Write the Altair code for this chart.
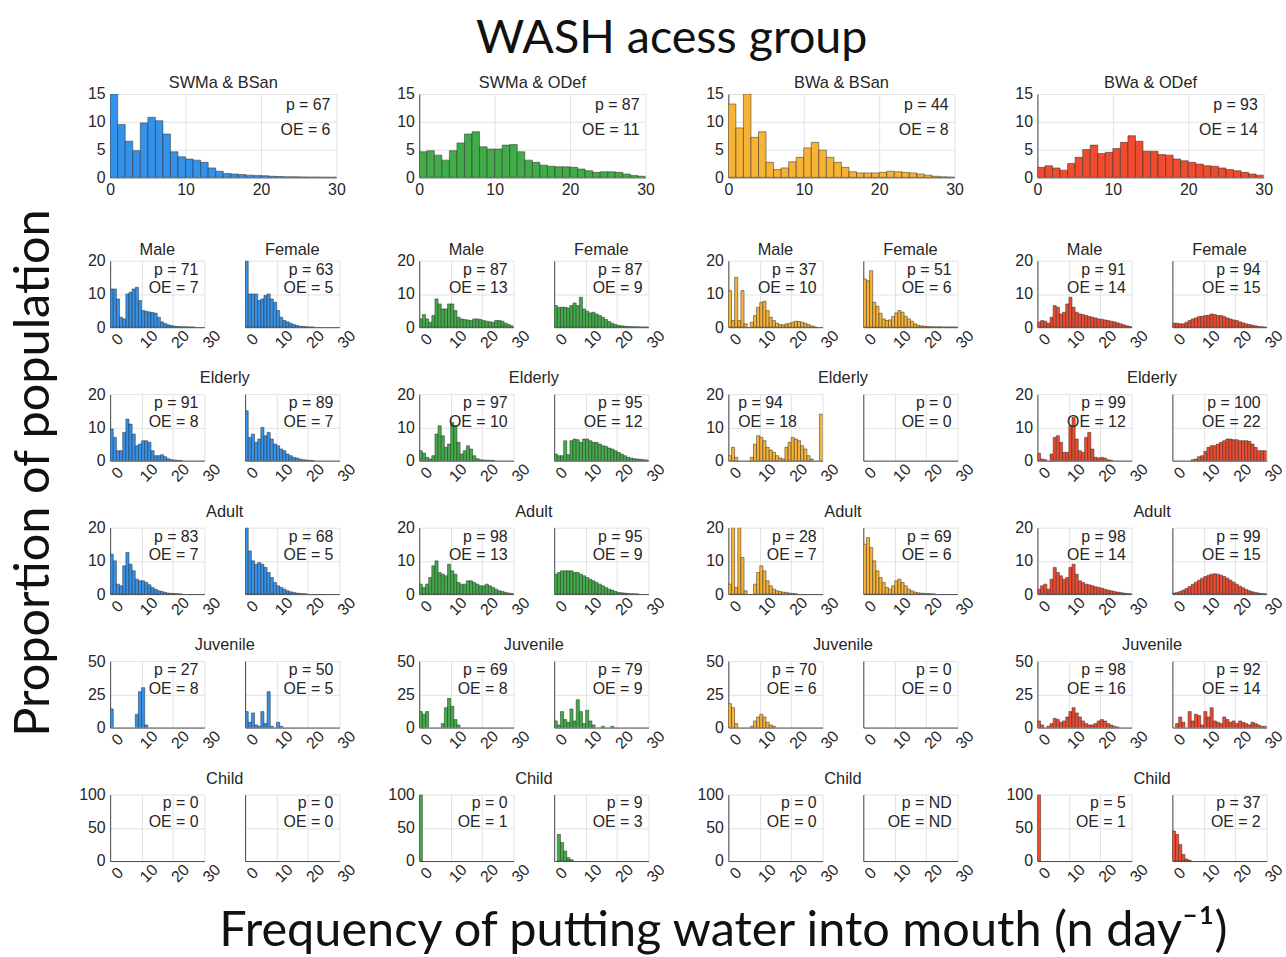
import altair as alt
import pandas as pd

# ---------------- data ----------------
BIN_EDGES = list(range(31))
X_TICKS = [0, 10, 20, 30]

GROUPS = ["SWMa & BSan", "SWMa & ODef", "BWa & BSan", "BWa & ODef"]
COLORS = ["#3592ea", "#41ad48", "#f8b334", "#ef4b2f"]

TITLE = "WASH acess group"
Y_LABEL = "Proportion of population"
X_LABEL = "Frequency of putting water into mouth (n day\u207b\u00b9)"

ROW_TITLES = ["", "Elderly", "Adult", "Juvenile", "Child"]
SEX_TITLES = ["Male", "Female"]
TOP_YMAX = 15
TOP_YTICKS = [0, 5, 10, 15]
ROW_YMAX = [20, 20, 20, 50, 100]
ROW_YTICKS = [[0, 10, 20], [0, 10, 20], [0, 10, 20], [0, 25, 50], [0, 50, 100]]

# top (all-population) histograms, % per 1-unit bin from 0 to 30
G1_TOP = [16, 9.5, 6.5, 4.8, 9.8, 10.8, 10.2, 7.8, 4.6, 3.7, 3.3, 3.1, 2.7, 1.7, 1.1,
          0.7, 0.6, 0.5, 0.4, 0.35, 0.3, 0.2, 0.15, 0.1, 0.1, 0.08, 0.05, 0.05, 0.03, 0.02]
G2_TOP = [4.6, 4.8, 4.0, 3.1, 4.8, 6.2, 7.8, 8.2, 5.5, 5.1, 5.1, 5.8, 5.9, 4.6, 3.1,
          2.7, 2.2, 2.0, 1.9, 1.9, 1.8, 1.5, 1.2, 0.9, 1.0, 1.0, 0.9, 0.6, 0.35, 0.2]
G3_TOP = [13.2, 8.9, 16, 7.2, 8.2, 2.7, 1.4, 1.7, 2.8, 3.6, 5.3, 6.3, 4.9, 3.6, 2.7,
          1.8, 1.0, 0.8, 0.8, 0.8, 0.9, 1.1, 1.0, 0.9, 0.8, 0.6, 0.4, 0.2, 0.1, 0.05]
G4_TOP = [1.8, 2.1, 1.7, 1.3, 2.5, 3.6, 5.0, 5.8, 4.3, 4.5, 5.2, 6.3, 7.5, 6.5, 4.7,
          4.7, 4.1, 4.0, 3.3, 3.0, 2.7, 2.4, 2.1, 2.0, 1.7, 1.4, 1.2, 0.9, 0.6, 0.4]

# group 1: SWMa & BSan
G1_MALE = [11.5, 11.5, 8.5, 3, 2.5, 10, 10.5, 11.5, 12, 8, 5, 4.8, 4.6, 4.4, 4.2,
           3, 1.6, 1.1, 0.7, 0.5, 0.3, 0.2, 0.15, 0.1, 0.1, 0.05, 0.05, 0, 0, 0]
G1_FEMALE = [24, 10, 10, 10, 8, 8.5, 9.5, 10, 8.5, 7.5, 5, 3, 2, 1.6, 1.2,
             0.8, 0.5, 0.3, 0.2, 0.1, 0.05, 0.05, 0, 0, 0, 0, 0, 0, 0, 0]
G1_ELDERLY_M = [9.5, 7, 3, 3, 8.5, 12.5, 11, 8, 4.5, 5, 6, 6, 5.5, 3, 1.5,
                1.5, 1.8, 1.2, 0.6, 0.3, 0.2, 0.1, 0.05, 0, 0, 0, 0, 0, 0, 0]
G1_ELDERLY_F = [15, 7, 8, 5.5, 6.5, 10, 7.5, 8.5, 6.5, 5, 4.5, 3.5, 3, 2, 1.5,
                1, 0.8, 0.5, 0.3, 0.2, 0.1, 0.05, 0, 0, 0, 0, 0, 0, 0, 0]
G1_ADULT_M = [12, 10, 3, 2.5, 8.5, 12.5, 9, 7, 4.5, 4, 4, 3.5, 2.8, 2, 1.5,
              1, 0.8, 0.5, 0.3, 0.2, 0.15, 0.1, 0.05, 0, 0, 0, 0, 0, 0, 0]
G1_ADULT_F = [24, 13, 10, 9, 9.5, 9, 8, 6.5, 5, 3.5, 2.5, 2, 1.5, 1, 0.7,
              0.5, 0.3, 0.2, 0.1, 0.05, 0, 0, 0, 0, 0, 0, 0, 0, 0, 0]
G1_JUV_M = [14, 0, 0, 0, 0, 0, 0, 0, 10, 27, 30, 2, 0, 0, 0]
G1_JUV_F = [12, 4, 11, 2, 1, 12, 3, 27, 1, 0, 4, 1, 0, 0, 0]
G1_CHILD_M = []
G1_CHILD_F = []

# group 2: SWMa & ODef
G2_MALE = [2.5, 3.8, 2.5, 1.5, 3.5, 8.5, 7, 5.5, 5.5, 7, 7, 5, 3, 2.5, 2.3,
           2.2, 2, 2.5, 2.5, 2.3, 2, 1.8, 1.6, 1.5, 2, 2, 1.8, 1.2, 0.8, 0.4]
G2_FEMALE = [6.5, 6, 6, 6, 5.8, 6.5, 7.3, 6.5, 9, 5.5, 4.8, 4.3, 4.5, 4, 3.5,
             3, 2.3, 1.7, 1.2, 0.8, 0.5, 0.4, 0.3, 0.2, 0.15, 0.1, 0.1, 0.05, 0.05, 0.05]
G2_ELDERLY_M = [3, 2.3, 1, 0.5, 1.5, 8, 10.5, 7.5, 4, 5, 11.5, 10.5, 5.5, 2, 3,
                4.5, 3.5, 1.5, 0.6, 0.3, 0.2, 0.15, 0.1, 0.05, 0, 0, 0, 0, 0, 0]
G2_ELDERLY_F = [2, 1.5, 1.5, 6, 1.8, 6, 6.5, 6.3, 5.5, 6.5, 6.5, 6, 5.5, 5.5, 5,
                4.5, 4.3, 3.8, 3.5, 3, 2.5, 2, 1.5, 1, 0.8, 0.6, 0.5, 0.4, 0.3, 0.2]
G2_ADULT_M = [3, 2, 3, 5, 8.5, 10, 6.5, 6, 5.5, 9, 7, 6, 3.5, 3, 3,
              4, 4, 3.5, 3, 2.5, 2.5, 3, 2.5, 2, 1.5, 1, 0.8, 0.5, 0.3, 0.2]
G2_ADULT_F = [6, 6.5, 7, 7, 7, 7, 6.5, 6.5, 6, 5.5, 5, 4.5, 4, 3.5, 3,
              2.5, 2, 1.5, 1.2, 0.8, 0.5, 0.4, 0.3, 0.2, 0.1, 0.1, 0.05, 0, 0, 0]
G2_JUV_M = [12, 10, 12, 0, 0, 0, 0, 3, 15, 22, 16, 6, 2, 0, 0]
G2_JUV_F = [5, 2, 12, 6, 4, 14, 5, 21, 12, 3, 13, 5, 2, 0, 0, 1, 0, 0, 1, 0]
G2_CHILD_M = [100]
G2_CHILD_F = [0, 40, 28, 15, 5, 2]

# group 3: BWa & BSan
G3_MALE = [11, 2, 15, 2, 11, 1, 0, 1.5, 3.5, 6, 7.5, 7.8, 5, 3, 2,
           1.2, 0.8, 0.7, 1, 1.2, 1.5, 1.8, 1.7, 1.5, 1.2, 0.8, 0.4, 0.1, 0, 0]
G3_FEMALE = [14.5, 14, 17, 7.5, 6.3, 4.2, 2.5, 2, 2.2, 3.2, 4.3, 5, 4.5, 3.3, 2.5,
             1.8, 1, 0.6, 0.4, 0.3, 0.2, 0.15, 0.1, 0.1, 0.1, 0.05, 0.05, 0.05, 0.05, 0.05]
G3_ELDERLY_M = [1.5, 4, 1, 0, 0, 0, 0, 1, 5, 7.5, 7, 6, 4, 3.2, 2.5,
                1.5, 0.8, 0.5, 4, 5.5, 7, 6.5, 6, 4.5, 3.5, 1.5, 0.5, 0, 0, 14]
G3_ELDERLY_F = []
G3_ADULT_M = [3, 25, 2, 25, 11, 1, 0, 0, 3, 6.5, 8.5, 7, 4, 2.5, 1.5,
              1, 0.8, 0.6, 0.5, 0.3, 0.2, 0.1, 0, 0, 0, 0, 0, 0, 0, 0]
G3_ADULT_F = [15, 17, 14, 10, 7, 5, 3.5, 2, 1.5, 2.5, 4, 4.5, 3.5, 2.5, 1.5,
              1, 0.6, 0.4, 0.3, 0.2, 0.15, 0.1, 0.05, 0, 0, 0, 0, 0, 0, 0]
G3_JUV_M = [18, 15, 3, 0, 0, 0, 0, 1, 5, 8, 10, 8, 4, 2, 1]
G3_JUV_F = []
G3_CHILD_M = []
G3_CHILD_F = []

# group 4: BWa & ODef
G4_MALE = [1.5, 2, 1.8, 1.2, 3, 6.5, 6, 4, 4.5, 7, 9, 6, 4.5, 4, 3.8,
           3.5, 3.2, 3, 2.8, 2.5, 2.4, 2.2, 2, 1.8, 1.6, 1.3, 1, 0.7, 0.4, 0.2]
G4_FEMALE = [1.2, 1.2, 1, 1, 1.5, 2, 2.5, 2.8, 3.2, 3.3, 3.5, 3.6, 4, 3.8, 3.5,
             3.5, 3.2, 2.8, 2.5, 2.2, 2, 1.6, 1.3, 1, 0.8, 0.6, 0.4, 0.2, 0.1, 0.05]
G4_ELDERLY_M = [2.2, 0.5, 0.3, 0, 2, 7, 7.5, 5.5, 2.5, 2.5, 10.5, 13, 6.5, 3, 2.5,
                7, 8.5, 3.5, 1, 0.8, 1, 0.8, 0.3, 0.1, 0, 0, 0, 0, 0, 0]
G4_ELDERLY_F = [0, 0, 0, 0, 0, 0, 0.3, 0.5, 1.2, 1.5, 2.8, 4, 4.5, 4.5, 5,
                5.5, 6, 6.5, 6.5, 6.3, 6.3, 6, 6, 6, 5.8, 5, 4, 3, 3, 3]
G4_ADULT_M = [1.5, 2.5, 3, 1.5, 4.5, 8, 6.5, 5.5, 4.5, 5, 8, 9, 6, 4, 3.5,
              3, 2.8, 2.5, 2.2, 2, 1.8, 1.5, 1.2, 1, 0.8, 0.6, 0.5, 0.3, 0.2, 0.1]
G4_ADULT_F = [0.3, 0.5, 0.8, 1.2, 1.7, 2.3, 3, 3.6, 4.2, 4.8, 5.3, 5.7, 6, 6.1, 6,
              5.7, 5.3, 4.8, 4.2, 3.6, 3, 2.4, 1.9, 1.4, 1, 0.7, 0.5, 0.3, 0.2, 0.1]
G4_JUV_M = [5, 2, 0, 1, 3, 7, 6, 4, 5, 8, 12, 15, 11, 8, 5,
            3, 2, 2, 3, 5, 6, 5, 3, 2, 1, 0.5, 0, 0, 0, 0]
G4_JUV_F = [0, 3, 8, 4, 0, 12, 5, 10, 9, 2, 12, 8, 15, 5, 4,
            3, 8, 6, 4, 5, 3, 5, 4, 3, 2, 4, 3, 2, 1, 1]
G4_CHILD_M = [100]
G4_CHILD_F = [45, 40, 25, 10, 3, 1]

TOP_VALUES = [G1_TOP, G2_TOP, G3_TOP, G4_TOP]
TOP_P = ["67", "87", "44", "93"]
TOP_OE = ["6", "11", "8", "14"]

SUB_VALUES = [
    [(G1_MALE, G1_FEMALE), (G1_ELDERLY_M, G1_ELDERLY_F), (G1_ADULT_M, G1_ADULT_F),
     (G1_JUV_M, G1_JUV_F), (G1_CHILD_M, G1_CHILD_F)],
    [(G2_MALE, G2_FEMALE), (G2_ELDERLY_M, G2_ELDERLY_F), (G2_ADULT_M, G2_ADULT_F),
     (G2_JUV_M, G2_JUV_F), (G2_CHILD_M, G2_CHILD_F)],
    [(G3_MALE, G3_FEMALE), (G3_ELDERLY_M, G3_ELDERLY_F), (G3_ADULT_M, G3_ADULT_F),
     (G3_JUV_M, G3_JUV_F), (G3_CHILD_M, G3_CHILD_F)],
    [(G4_MALE, G4_FEMALE), (G4_ELDERLY_M, G4_ELDERLY_F), (G4_ADULT_M, G4_ADULT_F),
     (G4_JUV_M, G4_JUV_F), (G4_CHILD_M, G4_CHILD_F)],
]
SUB_P = [
    [("71", "63"), ("91", "89"), ("83", "68"), ("27", "50"), ("0", "0")],
    [("87", "87"), ("97", "95"), ("98", "95"), ("69", "79"), ("0", "9")],
    [("37", "51"), ("94", "0"), ("28", "69"), ("70", "0"), ("0", "ND")],
    [("91", "94"), ("99", "100"), ("98", "99"), ("98", "92"), ("5", "37")],
]
SUB_OE = [
    [("7", "5"), ("8", "7"), ("7", "5"), ("8", "5"), ("0", "0")],
    [("13", "9"), ("10", "12"), ("13", "9"), ("8", "9"), ("1", "3")],
    [("10", "6"), ("18", "0"), ("7", "6"), ("6", "0"), ("0", "ND")],
    [("14", "15"), ("12", "22"), ("14", "15"), ("16", "14"), ("1", "2")],
]
LEFT_TEXT = {(2, 1, 0)}  # annotation placed top-left

# ---------------- style ----------------
FONT = "Liberation Sans"
BIG_FONT = "Lato"
TXT = "#262626"
BIG_TXT = "#111111"
GRID = "#e2e2e2"
AXIS = "#4a4a4a"
EDGE = "#2b2b2b"

TOP_W, TOP_H = 228, 84
SM_W, SM_H = 95, 67
PAIR_GAP = 41
Y_EXT = 34


def text_layer(s, x, y, size=16, align="center", baseline="alphabetic",
               font=FONT, color=TXT):
    return alt.Chart(pd.DataFrame({"t": [s]})).mark_text(
        align=align, baseline=baseline, font=font, fontSize=size, color=color
    ).encode(text="t:N", x=alt.value(x), y=alt.value(y))


def hist_panel(values, color, w, h, ymax, yticks, p, oe, ylabels=True, rotate=False,
               text_left=False, line_h=19, text_y=1, extra=()):
    n = len(values)
    df = pd.DataFrame({"x0": BIN_EDGES[:n], "x1": BIN_EDGES[1:n + 1], "v": values})
    xaxis = alt.Axis(values=X_TICKS, title=None, grid=True, gridColor=GRID,
                     domainColor=AXIS, domainWidth=1, ticks=False, labelFlush=False,
                     labelFont=FONT, labelFontSize=16, labelColor=TXT,
                     labelAngle=315 if rotate else 0, labelAlign="center",
                     labelBaseline="middle" if rotate else "top",
                     labelPadding=12 if rotate else 4,
                     labelOffset=7 if rotate else 0, labelOverlap=False)
    yaxis = alt.Axis(values=yticks, title=None, grid=True, gridColor=GRID,
                     domainColor=AXIS, domainWidth=1, ticks=False, labels=ylabels,
                     labelFont=FONT, labelFontSize=16, labelColor=TXT, labelPadding=5,
                     labelOverlap=False,
                     minExtent=Y_EXT if ylabels else 0, maxExtent=Y_EXT if ylabels else 0)
    bars = alt.Chart(df).mark_rect(color=color, stroke=EDGE, strokeWidth=0.6,
                                   strokeOpacity=0.85, clip=True).encode(
        x=alt.X("x0:Q", scale=alt.Scale(domain=[0, 30], nice=False, zero=False), axis=xaxis),
        x2="x1:Q",
        y=alt.Y("v:Q", scale=alt.Scale(domain=[0, ymax], nice=False, clamp=True), axis=yaxis),
        y2=alt.datum(0),
    ).transform_filter("datum.v > 0")
    align = "left" if text_left else "right"
    tx = 10 if text_left else w - 6
    t1 = text_layer(f"p = {p}", tx, text_y, align=align, baseline="top")
    t2 = text_layer(f"OE = {oe}", tx, text_y + line_h, align=align, baseline="top")
    return alt.layer(bars, t1, t2, *extra).properties(width=w, height=h)


# top row (group titles and the figure title drawn as text layers)
tops = []
for g in range(4):
    extra = [text_layer(GROUPS[g], TOP_W / 2, -6, size=16.5)]
    if g == 0:
        extra.append(text_layer(TITLE, 566, -41, size=47, font=BIG_FONT, color=BIG_TXT))
    tops.append(hist_panel(TOP_VALUES[g], COLORS[g], TOP_W, TOP_H, TOP_YMAX, TOP_YTICKS,
                           TOP_P[g], TOP_OE[g], line_h=25, text_y=3, extra=extra))
top_row = alt.hconcat(*tops, spacing=83.5, bounds="flush")

# small rows
rows = []
for r in range(5):
    pairs = []
    for g in range(4):
        vals_m, vals_f = SUB_VALUES[g][r]
        pm, pf = SUB_P[g][r]
        om, of = SUB_OE[g][r]
        if r == 0:
            ex_l = [text_layer(SEX_TITLES[0], SM_W / 2, -5.6, size=16.5)]
            ex_r = [text_layer(SEX_TITLES[1], SM_W / 2, -5.6, size=16.5)]
        else:
            ex_l = [text_layer(ROW_TITLES[r], (2 * SM_W + PAIR_GAP) / 2, -11, size=16.5)]
            ex_r = []
        left = hist_panel(vals_m, COLORS[g], SM_W, SM_H, ROW_YMAX[r], ROW_YTICKS[r], pm, om,
                          rotate=True, text_left=(g, r, 0) in LEFT_TEXT, extra=ex_l)
        right = hist_panel(vals_f, COLORS[g], SM_W, SM_H, ROW_YMAX[r], ROW_YTICKS[r], pf, of,
                           ylabels=False, rotate=True, extra=ex_r)
        pairs.append(alt.hconcat(left, right, spacing=PAIR_GAP, bounds="flush"))
    rows.append(alt.hconcat(*pairs, spacing=27.5))
small_grid = alt.vconcat(*rows, spacing=19.5)

xlab = text_layer(X_LABEL, 618, 22, size=49, baseline="middle", font=BIG_FONT,
                  color=BIG_TXT).properties(width=1180, height=44)

lower = alt.vconcat(small_grid, xlab, spacing=23)
main = alt.vconcat(top_row, lower, spacing=45)

ylab = alt.Chart(pd.DataFrame({"t": [Y_LABEL]})).mark_text(
    font=BIG_FONT, fontSize=49, color=BIG_TXT, angle=270, align="center",
    baseline="middle"
).encode(text="t:N", x=alt.value(32), y=alt.value(382)).properties(width=60, height=700)

chart = alt.hconcat(ylab, main, spacing=15).properties(
    padding={"left": 2, "top": 12, "right": 0, "bottom": 0},
    background="white",
).configure_view(stroke=None)

chart.save("out.html", embed_options={"renderer": "svg", "actions": False})
